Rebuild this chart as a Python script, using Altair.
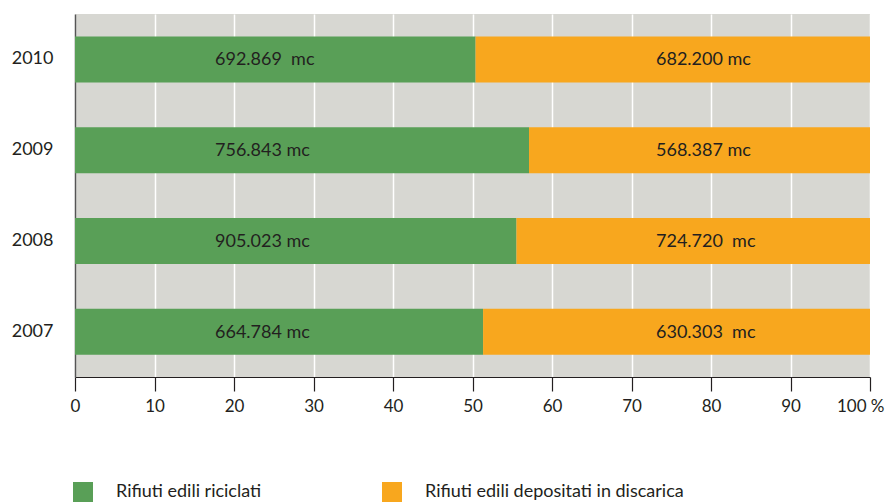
import altair as alt
import pandas as pd

years = ["2010", "2009", "2008", "2007"]
riciclati = [692869, 756843, 905023, 664784]
discarica = [682200, 568387, 724720, 630303]
label_riciclati = ["692.869\u00a0 mc", "756.843 mc", "905.023 mc", "664.784 mc"]
label_discarica = ["682.200 mc", "568.387 mc", "724.720\u00a0 mc", "630.303\u00a0 mc"]
series = ["Rifiuti edili riciclati", "Rifiuti edili depositati in discarica"]
colors = ["#599f57", "#f8a71e"]
ticks = [0, 0.1, 0.2, 0.3, 0.4, 0.5, 0.6, 0.7, 0.8, 0.9, 1.0]

rows = []
for i, y in enumerate(years):
    rows.append({"anno": y, "tipo": series[0], "ord": 0, "valore": riciclati[i], "etichetta": label_riciclati[i]})
    rows.append({"anno": y, "tipo": series[1], "ord": 1, "valore": discarica[i], "etichetta": label_discarica[i]})
df = pd.DataFrame(rows)

FONT = "Lato"
TXT = "#231f20"

base = alt.Chart(df)

y_enc = alt.Y("anno:N", sort=years, scale=alt.Scale(paddingInner=0, paddingOuter=0),
              axis=alt.Axis(title=None, ticks=False, labelPadding=22, labelFont=FONT,
                            labelFontSize=18, labelColor=TXT, domainColor="#555555",
                            domainWidth=1.5, grid=False))

bars = base.mark_bar(size=46).encode(
    x=alt.X("valore:Q", stack="normalize", scale=alt.Scale(domain=[0, 1], nice=False),
            axis=alt.Axis(title=None, values=ticks, tickSize=14, tickColor=TXT, tickWidth=1.2,
                          domainColor=TXT, domainWidth=1.2, labelPadding=7,
                          labelFont=FONT, labelFontSize=17, labelColor=TXT,
                          labelExpr="datum.value >= 1 ? '100 %' : format(datum.value*100, 'd')",
                          labelAlign=alt.condition("datum.value >= 1", alt.value("right"), alt.value("center")),
                          labelOffset=alt.condition("datum.value >= 1", alt.value(14), alt.value(0)),
                          grid=True, gridColor="#ffffff", gridWidth=1.5, labelFlush=False)),
    y=y_enc,
    color=alt.Color("tipo:N", scale=alt.Scale(domain=series, range=colors),
                    legend=alt.Legend(title=None, orient="none", legendX=-2, legendY=468,
                                      direction="horizontal", symbolType="square",
                                      symbolSize=400, symbolStrokeWidth=0, labelFont=FONT,
                                      labelFontSize=18, labelColor=TXT, labelOffset=23,
                                      columnPadding=120, labelLimit=400)),
    order=alt.Order("ord:Q"),
)

txt1 = base.transform_filter(alt.datum.ord == 0).mark_text(
    align="left", baseline="middle", font=FONT, fontSize=18, color=TXT, dy=1
).encode(x=alt.value(140), y=alt.Y("anno:N", sort=years), text="etichetta:N")

txt2 = base.transform_filter(alt.datum.ord == 1).mark_text(
    align="left", baseline="middle", font=FONT, fontSize=18, color=TXT, dy=1
).encode(x=alt.value(581), y=alt.Y("anno:N", sort=years), text="etichetta:N")

chart = alt.layer(bars, txt1, txt2).properties(
    width=795, height=363,
    autosize=alt.AutoSizeParams(type="none"),
    padding={"left": 67, "top": 6, "right": 15, "bottom": 130},
).configure_view(fill="#d7d7d2", strokeWidth=0)

chart.save("out.html", embed_options={"renderer": "svg", "actions": False})
